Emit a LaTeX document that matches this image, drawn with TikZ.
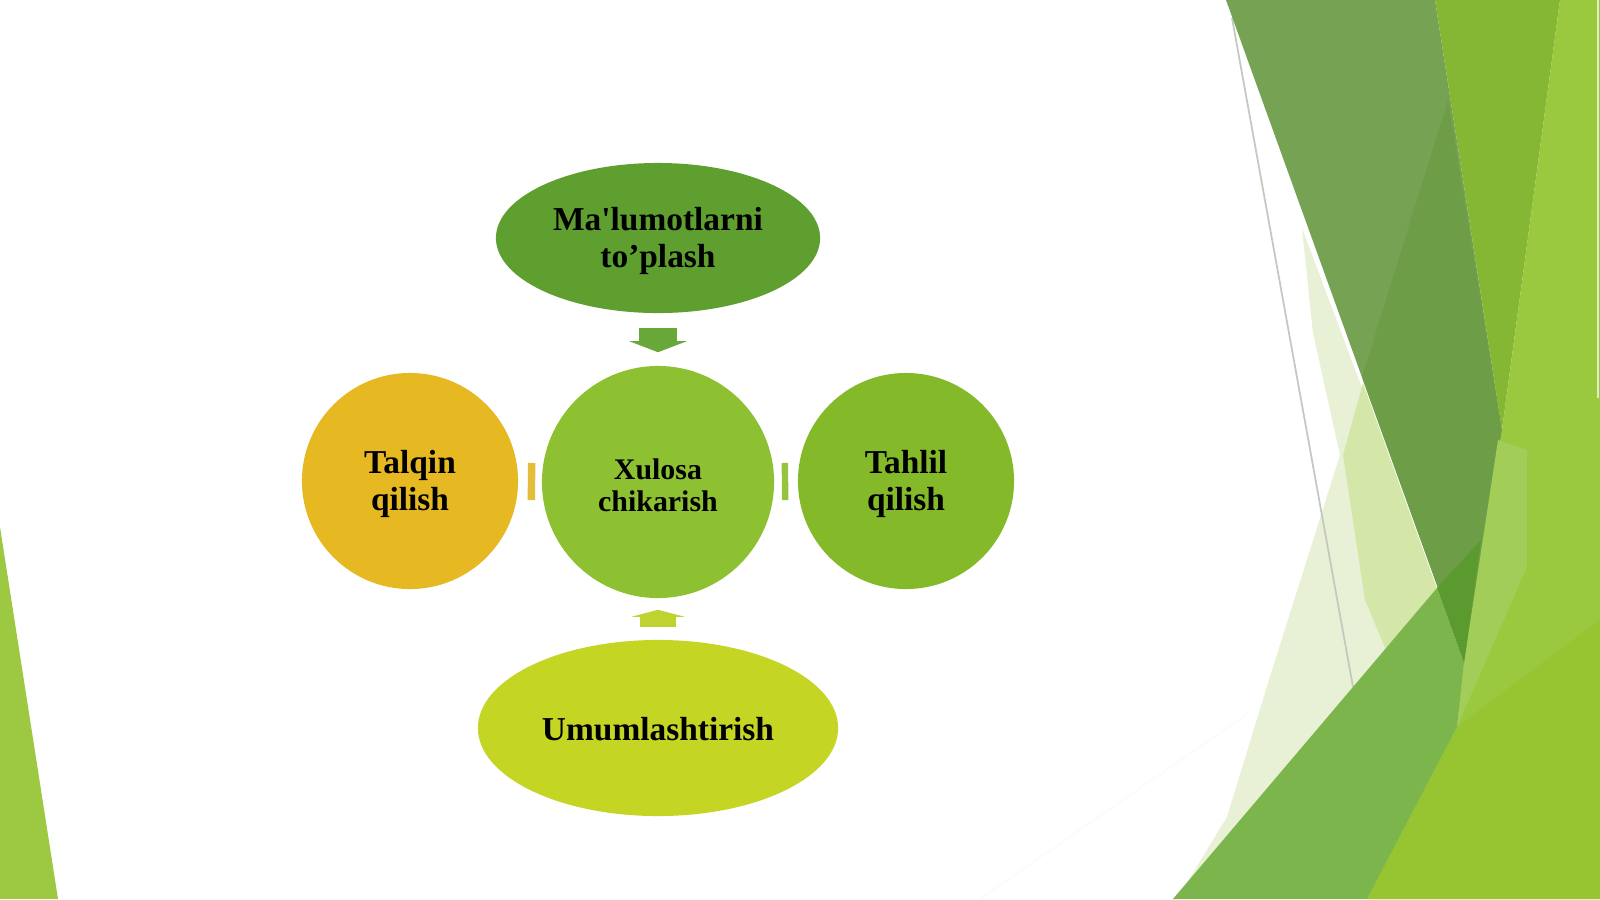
\documentclass[tikz,border=0pt]{standalone}
\usepackage{fontspec}
\setmainfont{Liberation Serif}
\usetikzlibrary{shapes.geometric,arrows.meta}
\definecolor{cTop}{RGB}{94,159,48}
\definecolor{cCtr}{RGB}{141,193,50}
\definecolor{cLft}{RGB}{230,184,33}
\definecolor{cRgt}{RGB}{132,186,42}
\definecolor{cBot}{RGB}{196,213,36}
\definecolor{aDown}{RGB}{104,168,56}
\definecolor{aUp}{RGB}{190,210,49}
\definecolor{aLft}{RGB}{226,190,58}
\definecolor{aRgt}{RGB}{152,195,62}
\definecolor{dTri}{RGB}{157,200,66}
\definecolor{dP1}{RGB}{232,241,213}
\definecolor{dP2}{RGB}{212,230,168}
\definecolor{dLine}{RGB}{196,201,192}
\definecolor{dE1}{RGB}{118,162,84}
\definecolor{dE2}{RGB}{110,157,72}
\definecolor{dF}{RGB}{133,183,52}
\definecolor{dG}{RGB}{154,200,63}
\definecolor{dL}{RGB}{162,205,88}
\definecolor{dH}{RGB}{150,197,49}
\definecolor{dC}{RGB}{123,181,75}
\definecolor{dD}{RGB}{90,154,47}
\newcommand{\straightq}{{\addfontfeatures{Ligatures=TeXOff}'}}
\begin{document}
\begin{tikzpicture}[x=0.01cm,y=-0.01cm,
  lbl/.style={font=\bfseries\fontsize{9.5pt}{10.5pt}\selectfont, align=center, text=black, inner sep=0pt},
  lblsmall/.style={font=\bfseries\fontsize{8.5pt}{9.1pt}\selectfont, align=center, text=black, inner sep=0pt},
  ell/.style={ellipse, inner sep=0pt},
  circ/.style={circle, inner sep=0pt},
  blockarrow/.style={line width=0.37cm},
  bar/.style={line width=0.37cm}
]
\useasboundingbox (0,0) rectangle (1600,899);
\fill[white] (0,0) rectangle (1600,899);
% left decoration
\fill[dTri] (0,527) -- (58,899) -- (0,899) -- cycle;
% right decoration
\fill[dP1] (1302,228) -- (1437,588) -- (1173,899) -- (1177,899) -- (1227,817) -- (1268,683) -- (1340,455) -- (1313,333) -- cycle;
\fill[dP2] (1363,383) -- (1437,589) -- (1386,650) -- (1365,600) -- (1343,455) -- cycle;
\draw[dLine, line width=0.5pt] (1232,18) -- (1353,687);
\draw[white!92!dLine, line width=0.4pt] (980,899) -- (1250,712);
\fill[dE1] (1226,0) -- (1435,0) -- (1502,430) -- (1465,663) -- cycle;
\fill[dE2] (1448,100) -- (1362,377) -- (1465,663) -- (1502,430) -- cycle;
\fill[dF] (1435,0) -- (1560,0) -- (1502,430) -- cycle;
\fill[dG] (1560,0) -- (1600,0) -- (1600,899) -- (1367,899) -- (1457,727) -- (1464,663) -- (1502,430) -- cycle;
\fill[dL] (1498,440) -- (1527,450) -- (1527,567) -- (1457,727) -- (1464,663) -- cycle;
\fill[dH] (1457,727) -- (1600,620) -- (1600,899) -- (1367,899) -- cycle;
\fill[dC] (1437,588) -- (1464,663) -- (1457,727) -- (1367,899) -- (1173,899) -- cycle;
\fill[dD] (1437,588) -- (1481,540) -- (1464,663) -- cycle;
\draw[white!70!dG, line width=0.5pt] (1598,0) -- (1598,398);
% diagram nodes
\node[ell, fill=cTop, minimum width=3.24cm, minimum height=1.5cm] (top) at (658,238) {};
\node[lbl] (toptxt) at (658,241) {Ma\straightq lumotlarni\\to’plash};
\node[circ, fill=cCtr, minimum size=2.32cm] (ctr) at (658,482) {};
\node[lblsmall] (ctrtxt) at (658,485) {Xulosa\\chikarish};
\node[circ, fill=cLft, minimum size=2.16cm] (lft) at (410,481) {};
\node[lbl] (lfttxt) at (410,484) {Talqin\\qilish};
\node[circ, fill=cRgt, minimum size=2.16cm] (rgt) at (906,481) {};
\node[lbl] (rgttxt) at (906,484) {Tahlil\\qilish};
\node[ell, fill=cBot, minimum width=3.6cm, minimum height=1.76cm] (bot) at (658,728) {};
\node[lbl] (bottxt) at (658,729) {Umumlashtirish};
% arrows
\draw[blockarrow, aDown, -{Triangle[width=0.57cm,length=0.11cm]}, shorten <=0.14cm, shorten >=0.13cm] (top) -- (ctr);
\draw[blockarrow, aUp, line width=0.35cm, -{Triangle[width=0.53cm,length=0.07cm]}, shorten <=0.12cm, shorten >=0.11cm] (bot) -- (ctr);
\draw[bar, aLft, shorten <=0.09cm, shorten >=0.06cm] (lft) -- (ctr);
\draw[bar, aRgt, shorten <=0.09cm, shorten >=0.07cm] (rgt) -- (ctr);
\end{tikzpicture}
\end{document}
